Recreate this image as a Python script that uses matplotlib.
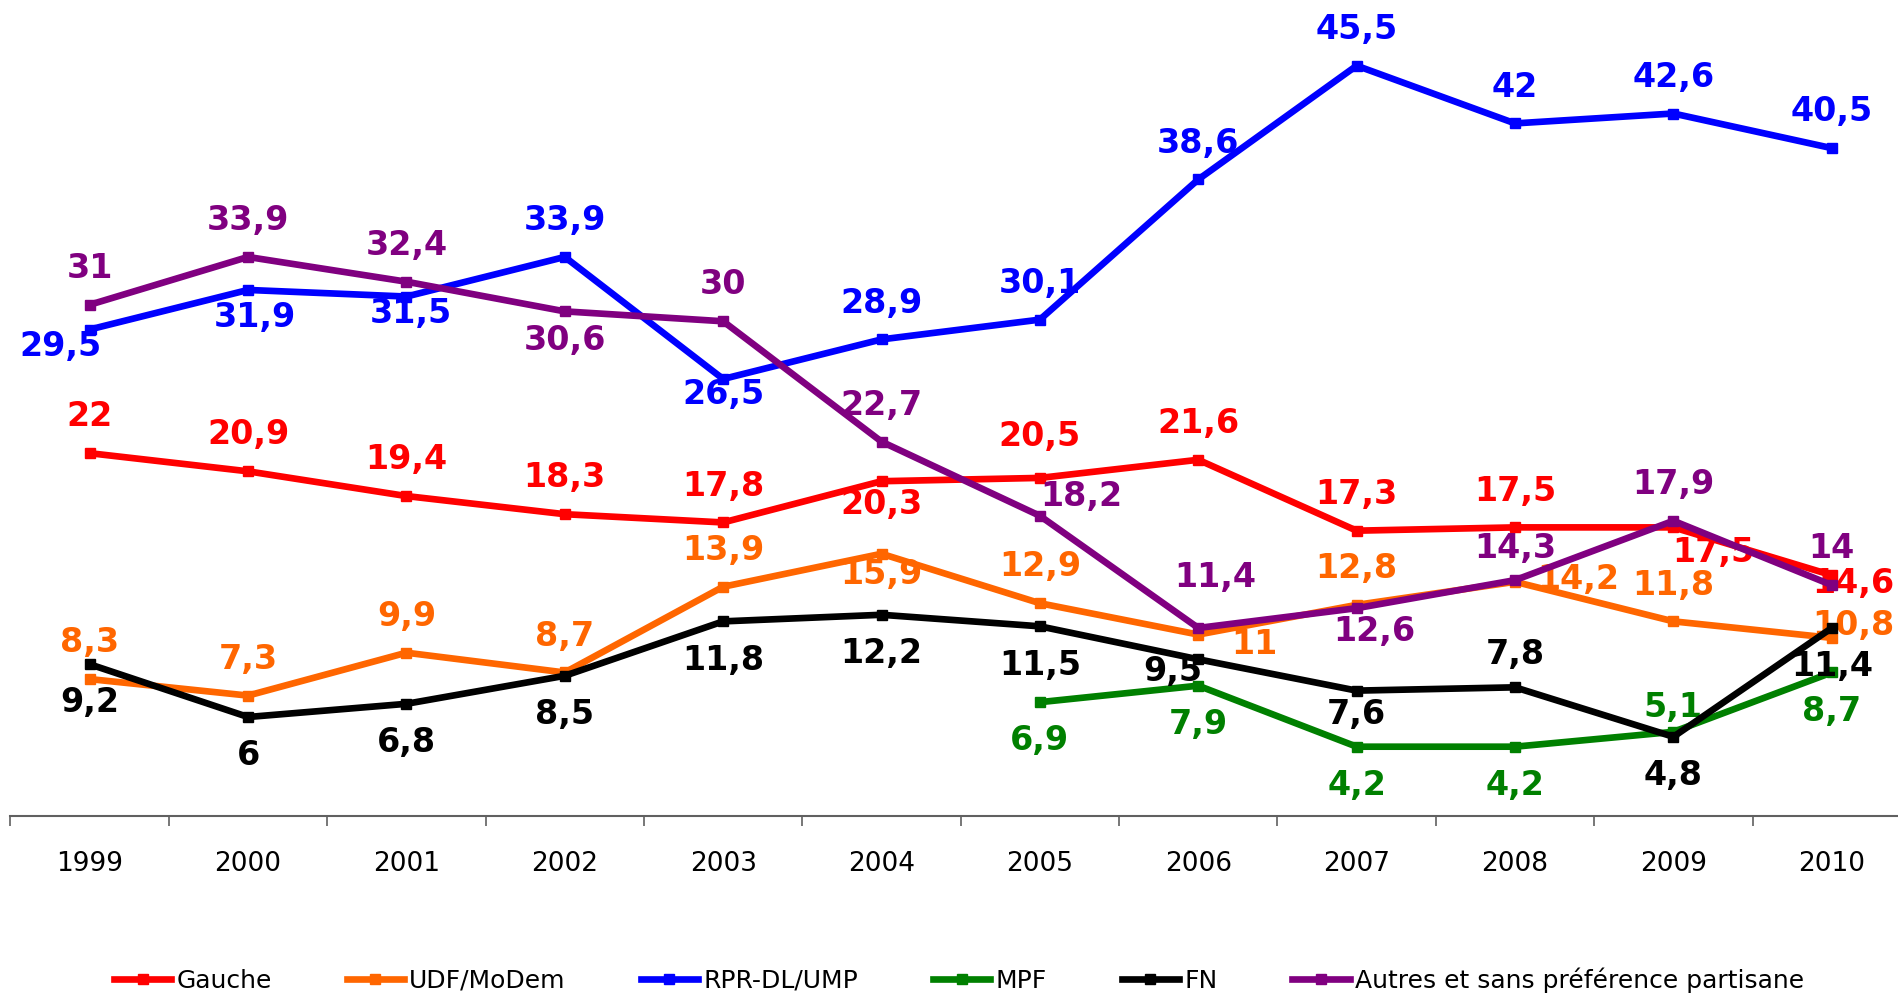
import numpy as np
import matplotlib.pyplot as plt

# values
years = ["1999", "2000", "2001", "2002", "2003", "2004",
         "2005", "2006", "2007", "2008", "2009", "2010"]

gauche = [22, 20.9, 19.4, 18.3, 17.8, 20.3, 20.5, 21.6, 17.3, 17.5, 17.5, 14.6]
udf_modem = [8.3, 7.3, 9.9, 8.7, 13.9, 15.9, 12.9, 11, 12.8, 14.2, 11.8, 10.8]
rpr_ump = [29.5, 31.9, 31.5, 33.9, 26.5, 28.9, 30.1, 38.6, 45.5, 42, 42.6, 40.5]
mpf = [np.nan] * 6 + [6.9, 7.9, 4.2, 4.2, 5.1, 8.7]
fn = [9.2, 6, 6.8, 8.5, 11.8, 12.2, 11.5, 9.5, 7.6, 7.8, 4.8, 11.4]
autres = [31, 33.9, 32.4, 30.6, 30, 22.7, 18.2, 11.4, 12.6, 14.3, 17.9, 14]

names = ["Gauche", "UDF/MoDem", "RPR-DL/UMP", "MPF", "FN",
         "Autres et sans préférence partisane"]
colors = ["#FF0000", "#FF6600", "#0000FF", "#008000", "#000000", "#800080"]

# label placement relative to the point, (dx, dy) in reference pixels, dy downwards
A, B = (0, -30), (0, 32)
label_pos = {
    "Gauche": [A, A, A, A, A, (0, 19), (0, -34), A, A, A, (33, 21), (18, 7)],
    "UDF/MoDem": [A, A, A, A, A, (0, 17), A, (46, 8), A, (52, -2), A, (18, -10)],
    "RPR-DL/UMP": [(-24, 14), (6, 23), (4, 14), A, (0, 13), A, A, A, A, A, A, A],
    "MPF": [None] * 6 + [B, B, B, B, (0, -20), B],
    "FN": [B, B, B, B, B, B, B, (-21, 10), (0, 20), (0, -27), B, B],
    "Autres et sans préférence partisane": [A, A, A, (0, 24), A, A, (34, -16),
                                             (14, -42), (15, 19), (0, -26), A, A],
}
px_to_pt = 1899 / 1568 * 0.72

plt.rcParams['font.family'] = ['DejaVu Sans']

fig = plt.figure(figsize=(18.99, 9.97), dpi=100)
ax = fig.add_axes([0.0055, 0.1816, 1.0008, 0.8104])

x = np.arange(len(years))
all_series = [gauche, udf_modem, rpr_ump, mpf, fn, autres]
for i, (vals, name, col) in enumerate(zip(all_series, names, colors)):
    ax.plot(x, vals, color=col, lw=4.8, marker="s", ms=7.5, label=name,
            zorder=2 + 2 * i)
    for xi, v, pos in zip(x, vals, label_pos[name]):
        if pos is None or np.isnan(v):
            continue
        txt = f"{v:g}".replace(".", ",")
        ax.annotate(txt, (xi, v), xytext=(pos[0] * px_to_pt, -pos[1] * px_to_pt),
                    textcoords="offset points", ha="center", va="center",
                    fontsize=24, fontweight="bold", color=col, zorder=3 + 2 * i)

ax.set_xlim(-0.5, len(years) - 0.5)
ax.set_ylim(0, 49)
ax.set_yticks([])
ax.set_xticks(x)
ax.set_xticklabels(years, fontsize=19)
ax.set_xticks(np.arange(-0.5, len(years)), minor=True)
ax.tick_params(axis="x", which="major", length=0, pad=25)
ax.tick_params(axis="x", which="minor", length=7, width=1.2, color="#606060")
for side in ["left", "right", "top"]:
    ax.spines[side].set_visible(False)
ax.spines["bottom"].set_color("#606060")
ax.spines["bottom"].set_linewidth(1.5)
ax.patch.set_alpha(0)

fig.legend(loc="center", bbox_to_anchor=(0.505, 0.017), ncol=6, frameon=False,
           fontsize=18, handlelength=2.3, handletextpad=0.2, columnspacing=3.0)

fig.savefig("out.png", dpi=100)
